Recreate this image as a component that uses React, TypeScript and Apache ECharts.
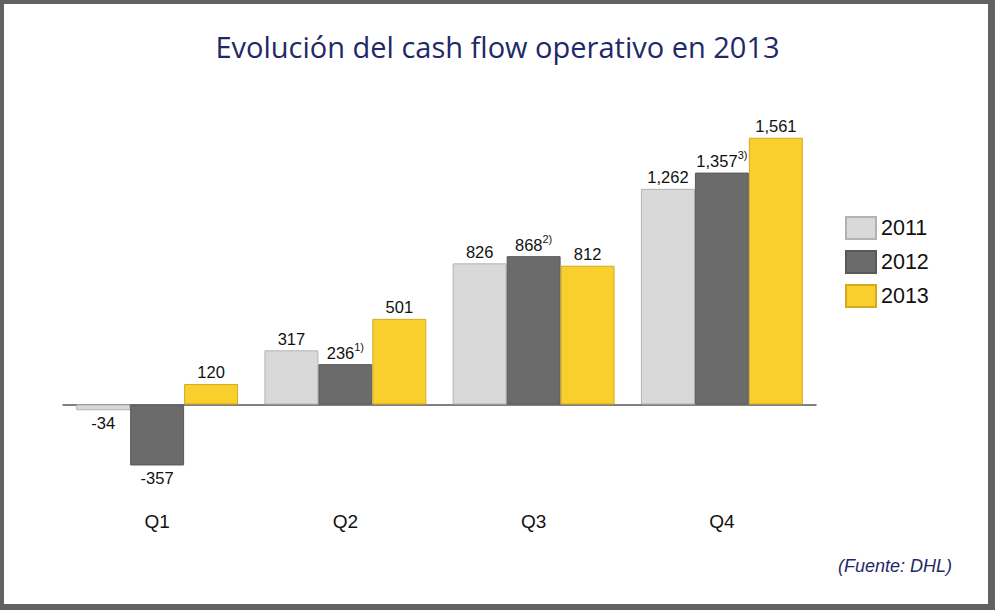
import React, { useEffect, useRef } from "react";
import * as echarts from "echarts";

const categories = ["Q1", "Q2", "Q3", "Q4"];
const seriesNames = ["2011", "2012", "2013"];
const values2011 = [-34, 317, 826, 1262];
const values2012 = [-357, 236, 868, 1357];
const values2013 = [120, 501, 812, 1561];
const notes2012 = ["", "1)", "2)", "3)"];

const fmt = (v: number) => v.toLocaleString("en-US");

export default function App() {
  const ref = useRef<HTMLDivElement>(null);
  useEffect(() => {
    if (!ref.current) return;
    const chart = echarts.init(ref.current, null, { renderer: "svg" });
    const labelFont = "Liberation Sans, Arial, sans-serif";
    const mkData = (vals: number[], notes?: string[]) =>
      vals.map((v, i) => ({
        value: v,
        label: {
          position: v < 0 ? "bottom" : "top",
          distance: v < 0 ? 1 : 3,
          formatter: notes && notes[i] ? `{n|${fmt(v)}}{s|${notes[i]}}` : `{n|${fmt(v)}}`,
        },
      }));
    const rich = {
      n: { fontSize: 16.5, fontFamily: labelFont, color: "#111", lineHeight: 20, verticalAlign: "bottom" },
      s: { fontSize: 11, fontFamily: labelFont, color: "#111", lineHeight: 20, verticalAlign: "top" },
    };
    const colors = ["#d9d9d9", "#6b6b6b", "#f9cf2d"];
    const borders = ["#b3b3b3", "#595959", "#d3ab22"];
    const dataSets = [mkData(values2011), mkData(values2012, notes2012), mkData(values2013)];
    chart.setOption({
      animation: false,
      title: {
        text: "Evolución del cash flow operativo en 2013",
        left: "center",
        top: 27,
        textStyle: { fontFamily: "Open Sans, sans-serif", fontSize: 29, fontWeight: "normal", color: "#1f2868" },
      },
      legend: {
        orient: "vertical",
        left: 845,
        top: 216,
        padding: 0,
        itemWidth: 30,
        itemHeight: 22,
        itemGap: 10,
        icon: "rect",
        textStyle: { fontSize: 21.5, fontFamily: labelFont, color: "#111" },
        data: seriesNames,
      },
      grid: { left: 63, right: 179, top: 114, height: 393, outerBoundsMode: "none", containLabel: false },
      xAxis: [
        {
          type: "category",
          data: categories,
          position: "bottom",
          axisLine: { show: false, onZero: false },
          axisTick: { show: false },
          axisLabel: { margin: 5, fontSize: 19, fontFamily: labelFont, color: "#111" },
        },
        {
          type: "category",
          data: categories,
          position: "bottom",
          axisLine: { show: true, onZero: true, lineStyle: { color: "#555", width: 1.5 } },
          axisTick: { show: false },
          axisLabel: { show: false },
        },
      ],
      yAxis: { type: "value", min: -600, max: 1700, show: false, splitLine: { show: false } },
      series: seriesNames.map((name, i) => ({
        name,
        type: "bar",
        data: dataSets[i],
        barGap: "0%",
        barCategoryGap: "14%",
        itemStyle: { color: colors[i], borderColor: borders[i], borderWidth: 1 },
        label: { show: true, rich },
      })),
      graphic: [
        { type: "rect", shape: { x: 0, y: 0, width: 995, height: 4 }, style: { fill: "#626262" } },
        { type: "rect", shape: { x: 0, y: 0, width: 4, height: 610 }, style: { fill: "#626262" } },
        { type: "rect", shape: { x: 988, y: 0, width: 7, height: 610 }, style: { fill: "#626262" } },
        { type: "rect", shape: { x: 0, y: 604, width: 995, height: 6 }, style: { fill: "#626262" } },
        {
          type: "text",
          right: 43,
          top: 557,
          style: { text: "(Fuente: DHL)", font: "italic 18px Liberation Sans, Arial, sans-serif", fill: "#1f2868" },
        },
      ],
    });
    return () => chart.dispose();
  }, []);
  return (
    <div
      ref={ref}
      style={{ position: "fixed", left: 0, top: 0, width: 995, height: 610, background: "#fff" }}
    />
  );
}
